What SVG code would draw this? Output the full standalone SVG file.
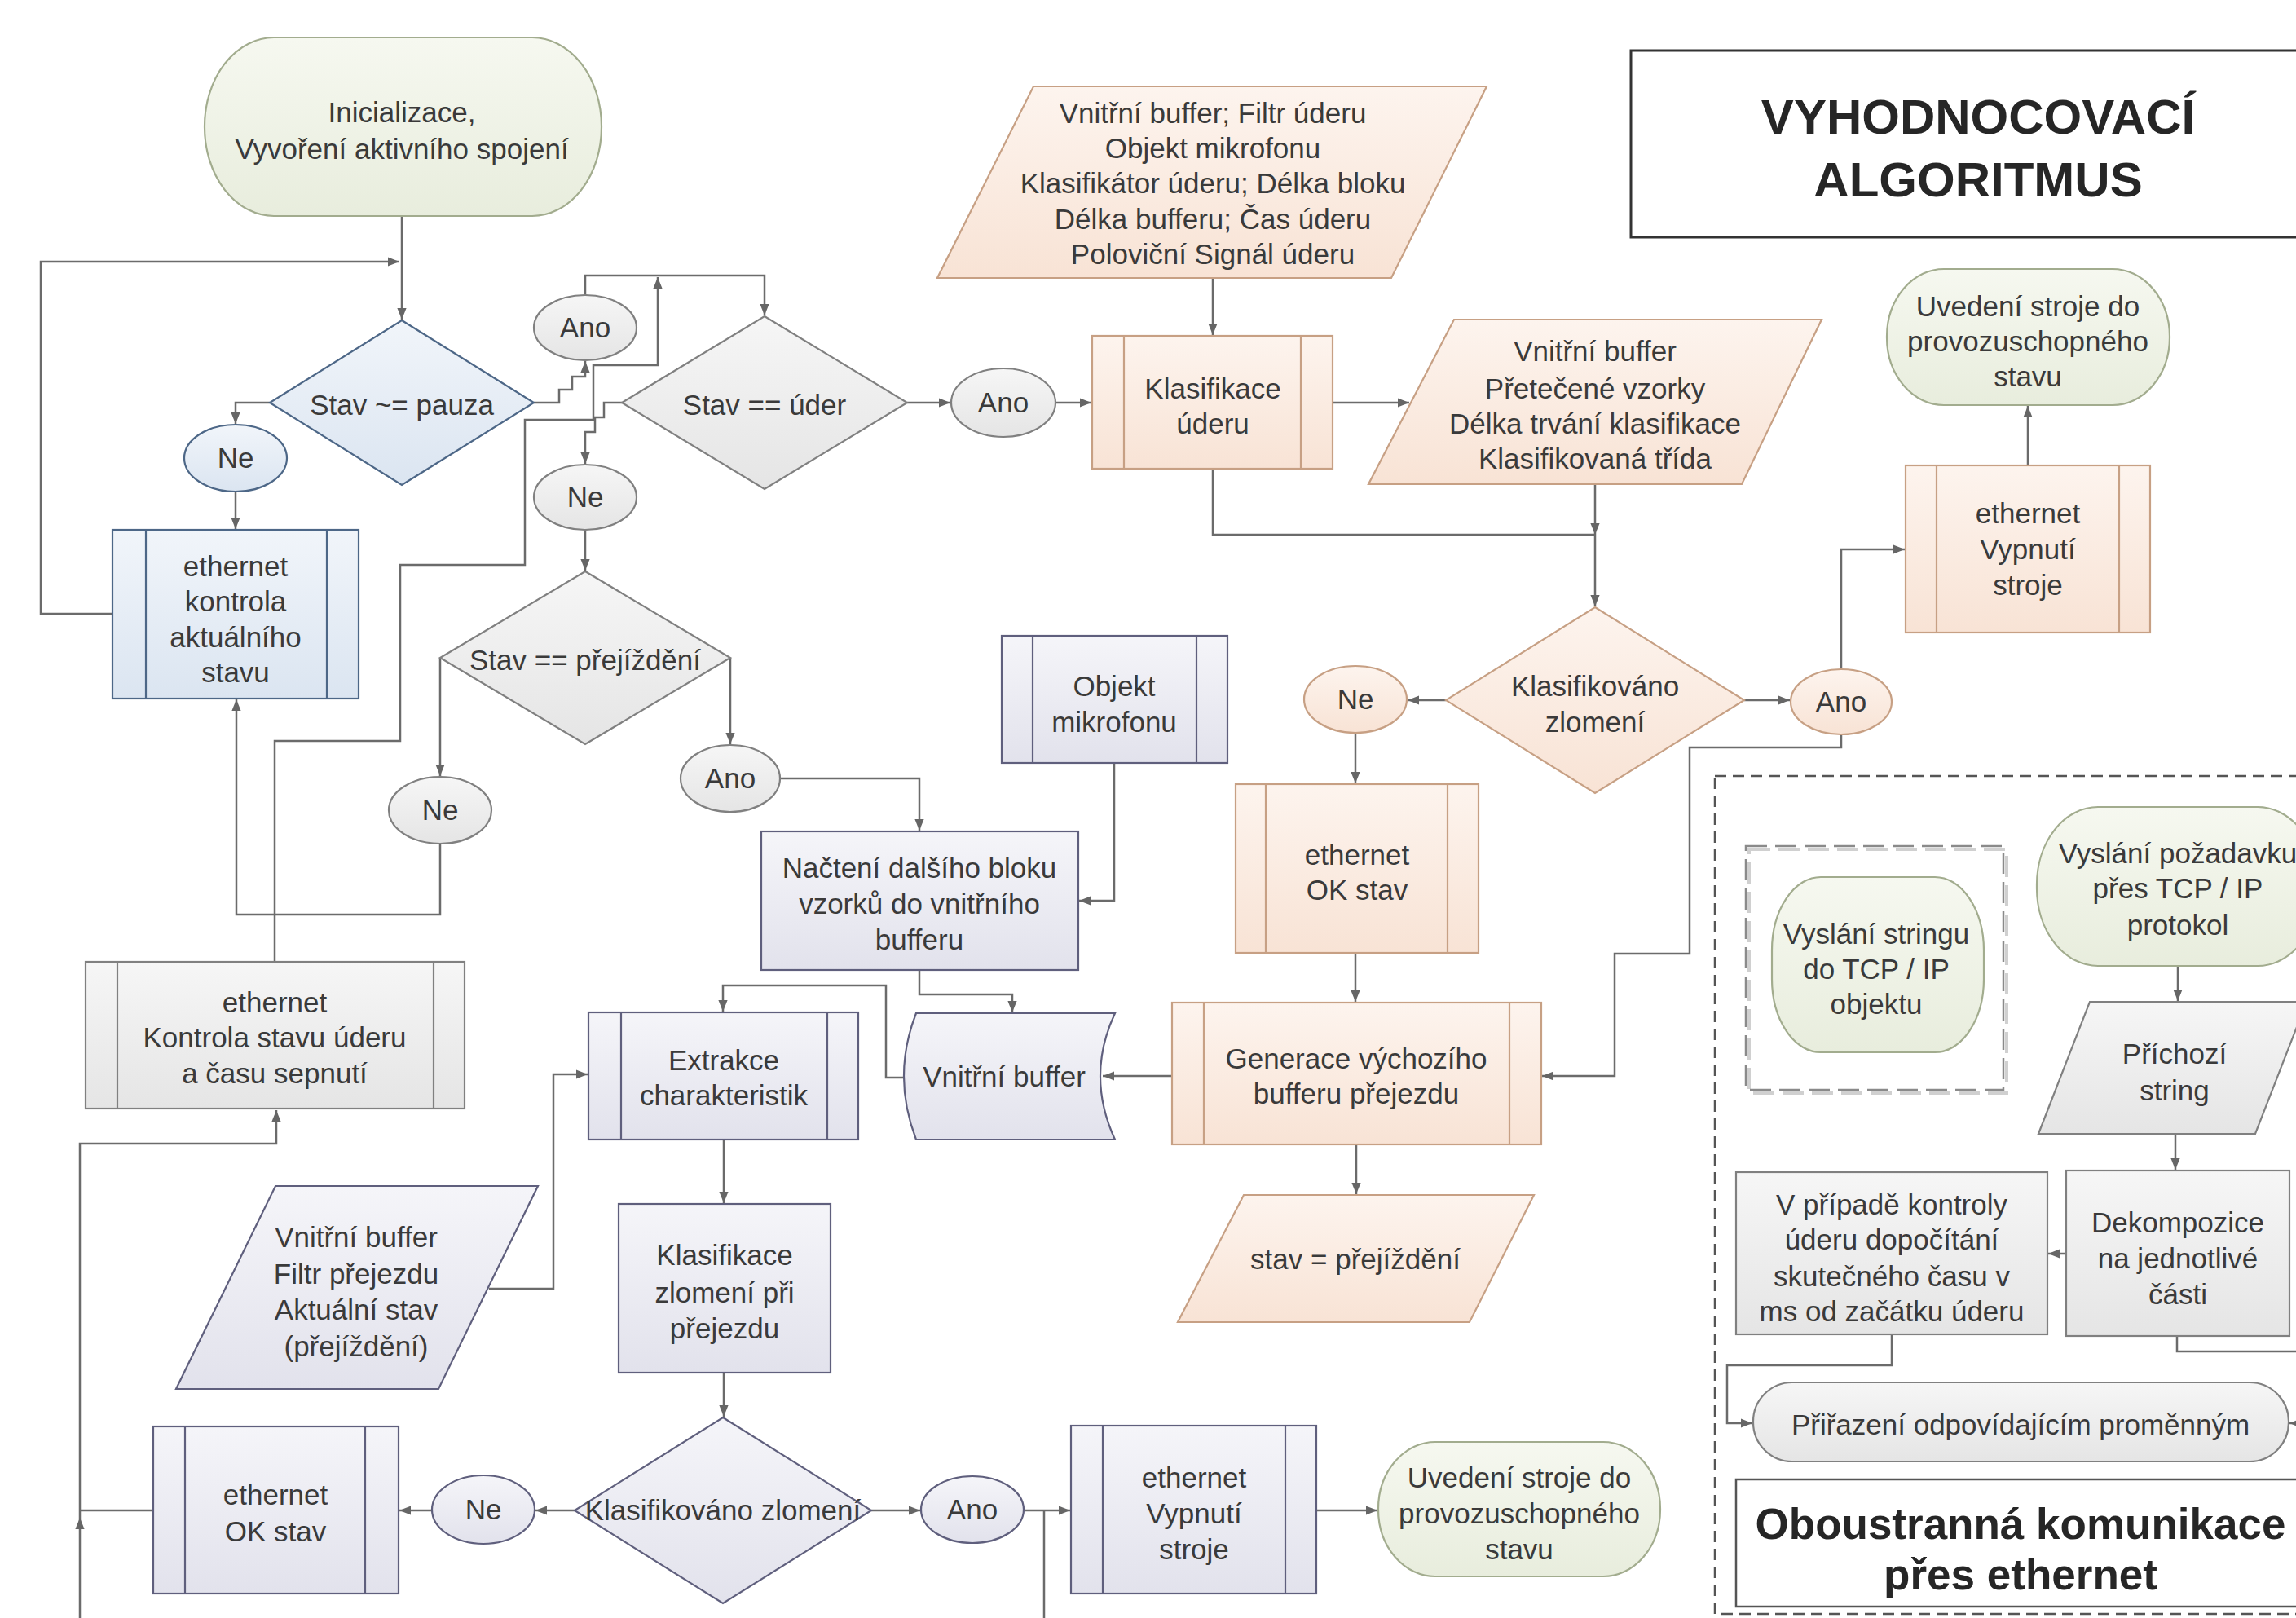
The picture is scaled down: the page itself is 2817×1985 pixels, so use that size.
<svg xmlns="http://www.w3.org/2000/svg" width="2817" height="1985" viewBox="0 0 2817 1985">
<defs>
<linearGradient id="gBlue" x1="0" y1="0" x2="0" y2="1"><stop offset="0" stop-color="#f1f5fa"/><stop offset="1" stop-color="#dbe5f1"/></linearGradient>
<linearGradient id="gGray" x1="0" y1="0" x2="0" y2="1"><stop offset="0" stop-color="#f6f6f6"/><stop offset="1" stop-color="#e5e5e5"/></linearGradient>
<linearGradient id="gLav" x1="0" y1="0" x2="0" y2="1"><stop offset="0" stop-color="#f5f5f9"/><stop offset="1" stop-color="#e2e2ec"/></linearGradient>
<linearGradient id="gOr" x1="0" y1="0" x2="0" y2="1"><stop offset="0" stop-color="#fdf4ee"/><stop offset="1" stop-color="#f8e3d5"/></linearGradient>
<linearGradient id="gGr" x1="0" y1="0" x2="0" y2="1"><stop offset="0" stop-color="#f6f8f0"/><stop offset="1" stop-color="#e8eddd"/></linearGradient>
<marker id="a" viewBox="0 0 10 10" refX="10" refY="5" markerWidth="14" markerHeight="14" markerUnits="userSpaceOnUse" orient="auto"><path d="M0,1 L10,5 L0,9 z" fill="#666"/></marker>
</defs>
<style>
.t{font-family:"Liberation Sans",Arial,sans-serif;font-size:35px;fill:#3a3a3a;text-anchor:middle}
.h{font-family:"Liberation Sans",Arial,sans-serif;font-weight:bold;fill:#262626;text-anchor:middle}
.blue{fill:url(#gBlue);stroke:#4d6787;stroke-width:2.2}
.gray{fill:url(#gGray);stroke:#808080;stroke-width:2.2}
.lav{fill:url(#gLav);stroke:#5f5f7d;stroke-width:2.2}
.or{fill:url(#gOr);stroke:#c7a084;stroke-width:2.2}
.gr{fill:url(#gGr);stroke:#a2ac8e;stroke-width:2.2}
.il{fill:none;stroke-width:2.2}
.c{fill:none;stroke:#6b6b6b;stroke-width:2.5}
.ca{fill:none;stroke:#6b6b6b;stroke-width:2.5;marker-end:url(#a)}
</style>
<rect width="2817" height="1985" fill="#ffffff"/>

<g id="connectors">
<path class="ca" d="M493,265 V392"/>
<path class="ca" d="M138,753 H50 V321 H490"/>
<path class="ca" d="M331,494 H289 V520"/>
<path class="ca" d="M289,603 V649"/>
<path class="ca" d="M655,494 H686 V478 H702 V462 H718 V443"/>
<path class="ca" d="M718,362 V338 H938 V387"/>
<path class="ca" d="M337,1180 V909 H491 V693 H644 V515 H728 V448 H807 V340"/>
<path class="ca" d="M763,494 H741 V512 H730 V530 H718 V569"/>
<path class="ca" d="M718,650 V700"/>
<path class="ca" d="M540,807 V952"/>
<path class="ca" d="M540,1035 V1122 H290 V858"/>
<path class="ca" d="M896,807 V913"/>
<path class="ca" d="M957,955 H1128 V1019"/>
<path class="ca" d="M1367,936 V1105 H1324"/>
<path class="ca" d="M1128,1190 V1220 H1242 V1242"/>
<path class="ca" d="M1110,1322 H1087 V1209 H887 V1241"/>
<path class="ca" d="M1438,1320 H1353"/>
<path class="ca" d="M1113,494 H1166"/>
<path class="ca" d="M1295,494 H1339"/>
<path class="ca" d="M1488,341 V411"/>
<path class="ca" d="M1635,494 H1729"/>
<path class="c" d="M1488,575 V656 H1957"/>
<path class="ca" d="M1957,594 V656"/>
<path class="ca" d="M1957,656 V744"/>
<path class="ca" d="M1774,859 H1727"/>
<path class="ca" d="M1663,899 V961"/>
<path class="ca" d="M1663,1169 V1229"/>
<path class="ca" d="M2140,859 H2196"/>
<path class="ca" d="M2259,821 V674 H2337"/>
<path class="ca" d="M2488,571 V498"/>
<path class="ca" d="M2259,901 V917 H2073 V1170 H1981 V1320 H1892"/>
<path class="ca" d="M1664,1404 V1465"/>
<path class="ca" d="M600,1581 H679 V1318 H721"/>
<path class="ca" d="M888,1398 V1476"/>
<path class="ca" d="M888,1684 V1738"/>
<path class="ca" d="M705,1853 H657"/>
<path class="ca" d="M530,1853 H490"/>
<path class="c" d="M188,1853 H98"/>
<path class="ca" d="M98,1990 V1862"/>
<path class="ca" d="M98,1862 V1403 H339 V1362"/>
<path class="ca" d="M1069,1853 H1129"/>
<path class="ca" d="M1256,1853 H1313"/>
<path class="c" d="M1281,1853 V1990"/>
<path class="ca" d="M1615,1853 H1690"/>
<path class="ca" d="M2672,1185 V1228"/>
<path class="ca" d="M2669,1391 V1435"/>
<path class="ca" d="M2535,1538 H2513"/>
<path class="ca" d="M2321,1637 V1675 H2119 V1746 H2150"/>
<path class="ca" d="M2671,1639 V1658 H2840 V1746 H2809"/>
</g>

<g id="n-title">
<rect x="2001" y="62" width="840" height="229" fill="#ffffff" stroke="#333333" stroke-width="3"/>
<text class="h" x="2427" y="164" font-size="60">VYHODNOCOVACÍ</text>
<text class="h" x="2427" y="241" font-size="60">ALGORITMUS</text>
</g>

<g id="n-init">
<rect class="gr" x="251" y="46" width="487" height="219" rx="85" ry="109"/>
<text class="t" x="493" y="150">Inicializace,</text>
<text class="t" x="493" y="195">Vyvoření aktivního spojení</text>
</g>

<g id="n-pauza">
<polygon class="blue" points="493,393 655,494 493,595 331,494"/>
<text class="t" x="493" y="509">Stav ~= pauza</text>
</g>

<g id="n-ne1">
<ellipse class="blue" cx="289" cy="562" rx="63" ry="41"/>
<text class="t" x="289" y="574">Ne</text>
</g>

<g id="n-kontrola">
<rect class="blue" x="138" y="650" width="302" height="207"/>
<path class="il" stroke="#4d6787" d="M179,650 V857 M401,650 V857"/>
<text class="t" x="289" y="707">ethernet</text>
<text class="t" x="289" y="750">kontrola</text>
<text class="t" x="289" y="794">aktuálního</text>
<text class="t" x="289" y="837">stavu</text>
</g>

<g id="n-ano1">
<ellipse class="gray" cx="718" cy="402" rx="63" ry="40"/>
<text class="t" x="718" y="414">Ano</text>
</g>

<g id="n-uder">
<polygon class="gray" points="938,388 1113,494 938,600 763,494"/>
<text class="t" x="938" y="509">Stav == úder</text>
</g>

<g id="n-ne2">
<ellipse class="gray" cx="718" cy="610" rx="63" ry="40"/>
<text class="t" x="718" y="622">Ne</text>
</g>

<g id="n-prejizdeni">
<polygon class="gray" points="718,701 896,807 718,913 540,807"/>
<text class="t" x="718" y="822">Stav == přejíždění</text>
</g>

<g id="n-ne3">
<ellipse class="gray" cx="540" cy="994" rx="63" ry="41"/>
<text class="t" x="540" y="1006">Ne</text>
</g>

<g id="n-ano2">
<ellipse class="gray" cx="896" cy="955" rx="61" ry="41"/>
<text class="t" x="896" y="967">Ano</text>
</g>

<g id="n-nacteni">
<rect class="lav" x="934" y="1020" width="389" height="170"/>
<text class="t" x="1128" y="1077">Načtení dalšího bloku</text>
<text class="t" x="1128" y="1121">vzorků do vnitřního</text>
<text class="t" x="1128" y="1165">bufferu</text>
</g>

<g id="n-objekt">
<rect class="lav" x="1229" y="780" width="277" height="156"/>
<path class="il" stroke="#5f5f7d" d="M1267,780 V936 M1468,780 V936"/>
<text class="t" x="1367" y="854">Objekt</text>
<text class="t" x="1367" y="898">mikrofonu</text>
</g>

<g id="n-vstupy">
<polygon class="or" points="1268,106 1824,106 1707,341 1150,341"/>
<text class="t" x="1488" y="151">Vnitřní buffer; Filtr úderu</text>
<text class="t" x="1488" y="194">Objekt mikrofonu</text>
<text class="t" x="1488" y="237">Klasifikátor úderu; Délka bloku</text>
<text class="t" x="1488" y="281">Délka bufferu; Čas úderu</text>
<text class="t" x="1488" y="324">Poloviční Signál úderu</text>
</g>

<g id="n-klas-uderu">
<rect class="or" x="1340" y="412" width="295" height="163"/>
<path class="il" stroke="#c7a084" d="M1379,412 V575 M1596,412 V575"/>
<text class="t" x="1488" y="489">Klasifikace</text>
<text class="t" x="1488" y="532">úderu</text>
</g>

<g id="n-ano3">
<ellipse class="gray" cx="1231" cy="494" rx="64" ry="42"/>
<text class="t" x="1231" y="506">Ano</text>
</g>

<g id="n-vystupy">
<polygon class="or" points="1784,392 2235,392 2137,594 1679,594"/>
<text class="t" x="1957" y="443">Vnitřní buffer</text>
<text class="t" x="1957" y="489">Přetečené vzorky</text>
<text class="t" x="1957" y="532">Délka trvání klasifikace</text>
<text class="t" x="1957" y="575">Klasifikovaná třída</text>
</g>

<g id="n-klas-zlom1">
<polygon class="or" points="1957,745 2140,859 1957,973 1774,859"/>
<text class="t" x="1957" y="854">Klasifikováno</text>
<text class="t" x="1957" y="898">zlomení</text>
</g>

<g id="n-ne4">
<ellipse class="or" cx="1663" cy="858" rx="63" ry="41"/>
<text class="t" x="1663" y="870">Ne</text>
</g>

<g id="n-okstav1">
<rect class="or" x="1516" y="962" width="298" height="207"/>
<path class="il" stroke="#c7a084" d="M1553,962 V1169 M1776,962 V1169"/>
<text class="t" x="1665" y="1061">ethernet</text>
<text class="t" x="1665" y="1104">OK stav</text>
</g>

<g id="n-ano4">
<ellipse class="or" cx="2259" cy="861" rx="62" ry="40"/>
<text class="t" x="2259" y="873">Ano</text>
</g>

<g id="n-vypnuti1">
<rect class="or" x="2338" y="571" width="300" height="205"/>
<path class="il" stroke="#c7a084" d="M2376,571 V776 M2600,571 V776"/>
<text class="t" x="2488" y="642">ethernet</text>
<text class="t" x="2488" y="686">Vypnutí</text>
<text class="t" x="2488" y="730">stroje</text>
</g>

<g id="n-uvedeni1">
<rect class="gr" x="2315" y="330" width="347" height="167" rx="70" ry="83"/>
<text class="t" x="2488" y="388">Uvedení stroje do</text>
<text class="t" x="2488" y="431">provozuschopného</text>
<text class="t" x="2488" y="474">stavu</text>
</g>

<g id="n-generace">
<rect class="or" x="1438" y="1230" width="453" height="174"/>
<path class="il" stroke="#c7a084" d="M1477,1230 V1404 M1852,1230 V1404"/>
<text class="t" x="1664" y="1311">Generace výchozího</text>
<text class="t" x="1664" y="1354">bufferu přejezdu</text>
</g>

<g id="n-stav">
<polygon class="or" points="1526,1466 1882,1466 1803,1622 1445,1622"/>
<text class="t" x="1663" y="1557">stav = přejíždění</text>
</g>

<g id="n-buffer">
<path class="lav" d="M1124,1243 L1368,1243 Q1332,1320 1368,1398 L1124,1398 Q1094,1320 1124,1243 Z"/>
<text class="t" x="1232" y="1333">Vnitřní buffer</text>
</g>

<g id="n-extrakce">
<rect class="lav" x="722" y="1242" width="331" height="156"/>
<path class="il" stroke="#5f5f7d" d="M762,1242 V1398 M1015,1242 V1398"/>
<text class="t" x="888" y="1313">Extrakce</text>
<text class="t" x="888" y="1356">charakteristik</text>
</g>

<g id="n-kontrola-uderu">
<rect class="gray" x="105" y="1180" width="465" height="180"/>
<path class="il" stroke="#808080" d="M144,1180 V1360 M532,1180 V1360"/>
<text class="t" x="337" y="1242">ethernet</text>
<text class="t" x="337" y="1285">Kontrola stavu úderu</text>
<text class="t" x="337" y="1329">a času sepnutí</text>
</g>

<g id="n-vstupy2">
<polygon class="lav" points="338,1455 660,1455 538,1704 216,1704"/>
<text class="t" x="437" y="1530">Vnitřní buffer</text>
<text class="t" x="437" y="1575">Filtr přejezdu</text>
<text class="t" x="437" y="1619">Aktuální stav</text>
<text class="t" x="437" y="1664">(přejíždění)</text>
</g>

<g id="n-klas-prejezd">
<rect class="lav" x="759" y="1477" width="260" height="207"/>
<text class="t" x="889" y="1552">Klasifikace</text>
<text class="t" x="889" y="1598">zlomení při</text>
<text class="t" x="889" y="1642">přejezdu</text>
</g>

<g id="n-klas-zlom2">
<polygon class="lav" points="887,1739 1069,1853 887,1967 705,1853"/>
<text class="t" x="887" y="1865">Klasifikováno zlomení</text>
</g>

<g id="n-ne5">
<ellipse class="lav" cx="593" cy="1852" rx="63" ry="42"/>
<text class="t" x="593" y="1864">Ne</text>
</g>

<g id="n-okstav2">
<rect class="lav" x="188" y="1750" width="301" height="205"/>
<path class="il" stroke="#5f5f7d" d="M227,1750 V1955 M448,1750 V1955"/>
<text class="t" x="338" y="1846">ethernet</text>
<text class="t" x="338" y="1891">OK stav</text>
</g>

<g id="n-ano5">
<ellipse class="lav" cx="1193" cy="1852" rx="63" ry="41"/>
<text class="t" x="1193" y="1864">Ano</text>
</g>

<g id="n-vypnuti2">
<rect class="lav" x="1314" y="1749" width="301" height="206"/>
<path class="il" stroke="#5f5f7d" d="M1353,1749 V1955 M1577,1749 V1955"/>
<text class="t" x="1465" y="1825">ethernet</text>
<text class="t" x="1465" y="1869">Vypnutí</text>
<text class="t" x="1465" y="1913">stroje</text>
</g>

<g id="n-uvedeni2">
<rect class="gr" x="1691" y="1769" width="346" height="165" rx="70" ry="82"/>
<text class="t" x="1864" y="1825">Uvedení stroje do</text>
<text class="t" x="1864" y="1869">provozuschopného</text>
<text class="t" x="1864" y="1913">stavu</text>
</g>

<g id="g-ethernet-region">
<rect x="2104" y="952" width="740" height="1028" fill="none" stroke="#555555" stroke-width="2.5" stroke-dasharray="14 8"/>
</g>

<g id="n-string-frame">
<rect x="2146" y="1042" width="316" height="299" fill="none" stroke="#d0d0d0" stroke-width="4" stroke-dasharray="26 10"/>
<rect x="2142" y="1038" width="316" height="299" fill="none" stroke="#8a8a8a" stroke-width="2.5" stroke-dasharray="26 10"/>
</g>

<g id="n-vyslani-stringu">
<rect class="gr" x="2174" y="1076" width="260" height="215" rx="60" ry="90"/>
<text class="t" x="2302" y="1158">Vyslání stringu</text>
<text class="t" x="2302" y="1201">do TCP / IP</text>
<text class="t" x="2302" y="1244">objektu</text>
</g>

<g id="n-vyslani-pozadavku">
<rect class="gr" x="2499" y="990" width="346" height="195" rx="75" ry="95"/>
<text class="t" x="2672" y="1059">Vyslání požadavku</text>
<text class="t" x="2672" y="1102">přes TCP / IP</text>
<text class="t" x="2672" y="1147">protokol</text>
</g>

<g id="n-prichozi">
<polygon class="gray" points="2564,1229 2830,1229 2767,1391 2501,1391"/>
<text class="t" x="2668" y="1305">Příchozí</text>
<text class="t" x="2668" y="1350">string</text>
</g>

<g id="n-dekompozice">
<rect class="gray" x="2535" y="1436" width="274" height="203"/>
<text class="t" x="2672" y="1512">Dekompozice</text>
<text class="t" x="2672" y="1556">na jednotlivé</text>
<text class="t" x="2672" y="1600">části</text>
</g>

<g id="n-pripade">
<rect class="gray" x="2130" y="1438" width="382" height="199"/>
<text class="t" x="2321" y="1490">V případě kontroly</text>
<text class="t" x="2321" y="1533">úderu dopočítání</text>
<text class="t" x="2321" y="1578">skutečného času v</text>
<text class="t" x="2321" y="1621">ms od začátku úderu</text>
</g>

<g id="n-prirazeni">
<rect class="gray" x="2151" y="1696" width="657" height="97" rx="48" ry="48"/>
<text class="t" x="2479" y="1760">Přiřazení odpovídajícím proměnným</text>
</g>

<g id="n-oboustranna">
<rect x="2130" y="1815" width="720" height="156" fill="#ffffff" stroke="#555555" stroke-width="2.5"/>
<text class="h" x="2479" y="1888" font-size="53">Oboustranná komunikace</text>
<text class="h" x="2479" y="1950" font-size="53">přes ethernet</text>
</g>
</svg>
